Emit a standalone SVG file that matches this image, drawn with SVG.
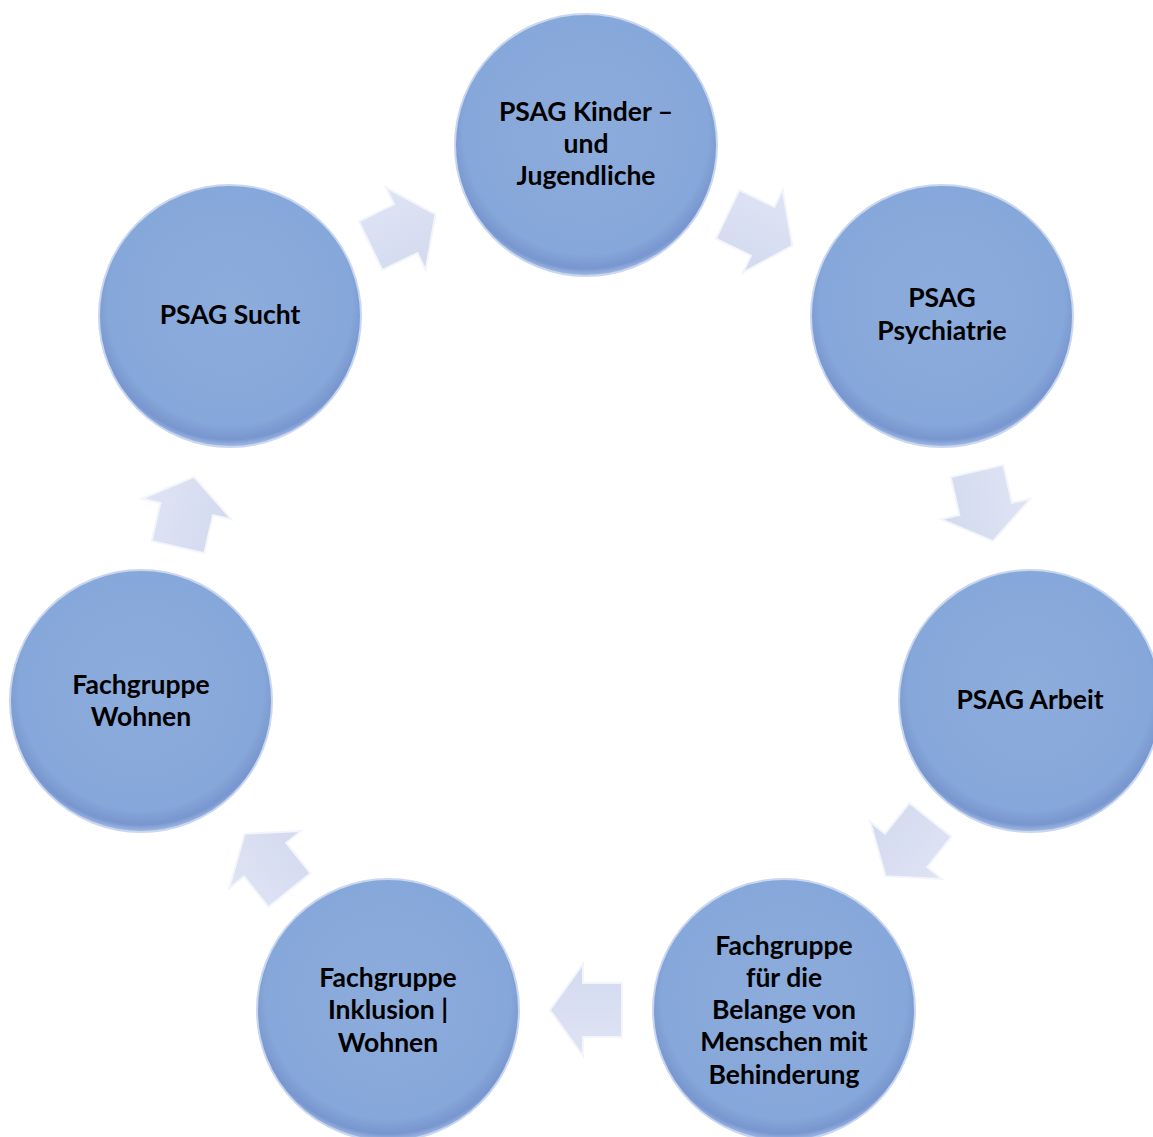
<svg xmlns="http://www.w3.org/2000/svg" width="1153" height="1137" viewBox="0 0 1153 1137">
<defs>
<radialGradient id="cg" cx="50%" cy="45%" r="55%">
<stop offset="0" stop-color="#8cacdc"/>
<stop offset="0.85" stop-color="#86a7d9"/>
<stop offset="0.95" stop-color="#7896cf"/>
<stop offset="1" stop-color="#a5bde5"/>
</radialGradient>
<linearGradient id="ag" x1="0" y1="0" x2="0" y2="1">
<stop offset="0" stop-color="#dfe4f4"/>
<stop offset="1" stop-color="#d3daef"/>
</linearGradient>
<path id="arr" d="M-36,-27 L3,-27 L3,-46 L36,0 L3,46 L3,27 L-36,27 Z"/>
</defs>
<style>
.node circle{fill:url(#cg);stroke:#c8d6ef;stroke-width:2}
.node text{font-family:Lato,"Open Sans","Liberation Sans",sans-serif;font-weight:bold;font-size:26.5px;fill:#000;text-anchor:middle}
.conn use{fill:url(#ag);stroke:#f3f5fb;stroke-width:2;stroke-linejoin:miter}
</style>
<rect width="1153" height="1137" fill="#fff"/>
<g id="connectors" class="conn">
<use href="#arr" transform="translate(403,230) rotate(-25.71)"/>
<use href="#arr" transform="translate(760,230) rotate(25.71)"/>
<use href="#arr" transform="translate(985,506) rotate(77.14)"/>
<use href="#arr" transform="translate(908,848) rotate(128.57)"/>
<use href="#arr" transform="translate(586,1010) rotate(180)"/>
<use href="#arr" transform="translate(267,862) rotate(231.43)"/>
<use href="#arr" transform="translate(186,512) rotate(282.86)"/>
</g>
<g id="n1" class="node"><circle cx="586" cy="145" r="131"/>
<text x="586" y="121">PSAG Kinder –</text><text x="586" y="153">und</text><text x="586" y="185">Jugendliche</text></g>
<g id="n2" class="node"><circle cx="942" cy="316" r="131"/>
<text x="942" y="307">PSAG</text><text x="942" y="340">Psychiatrie</text></g>
<g id="n3" class="node"><circle cx="1030" cy="701" r="131"/>
<text x="1030" y="709">PSAG Arbeit</text></g>
<g id="n4" class="node"><circle cx="784" cy="1010" r="131"/>
<text x="784" y="955">Fachgruppe</text><text x="784" y="987">für die</text><text x="784" y="1019">Belange von</text><text x="784" y="1051">Menschen mit</text><text x="784" y="1084">Behinderung</text></g>
<g id="n5" class="node"><circle cx="388" cy="1010" r="131"/>
<text x="388" y="987">Fachgruppe</text><text x="388" y="1019">Inklusion |</text><text x="388" y="1052">Wohnen</text></g>
<g id="n6" class="node"><circle cx="141" cy="701" r="131"/>
<text x="141" y="694">Fachgruppe</text><text x="141" y="726">Wohnen</text></g>
<g id="n7" class="node"><circle cx="230" cy="316" r="131"/>
<text x="230" y="324">PSAG Sucht</text></g>
</svg>
